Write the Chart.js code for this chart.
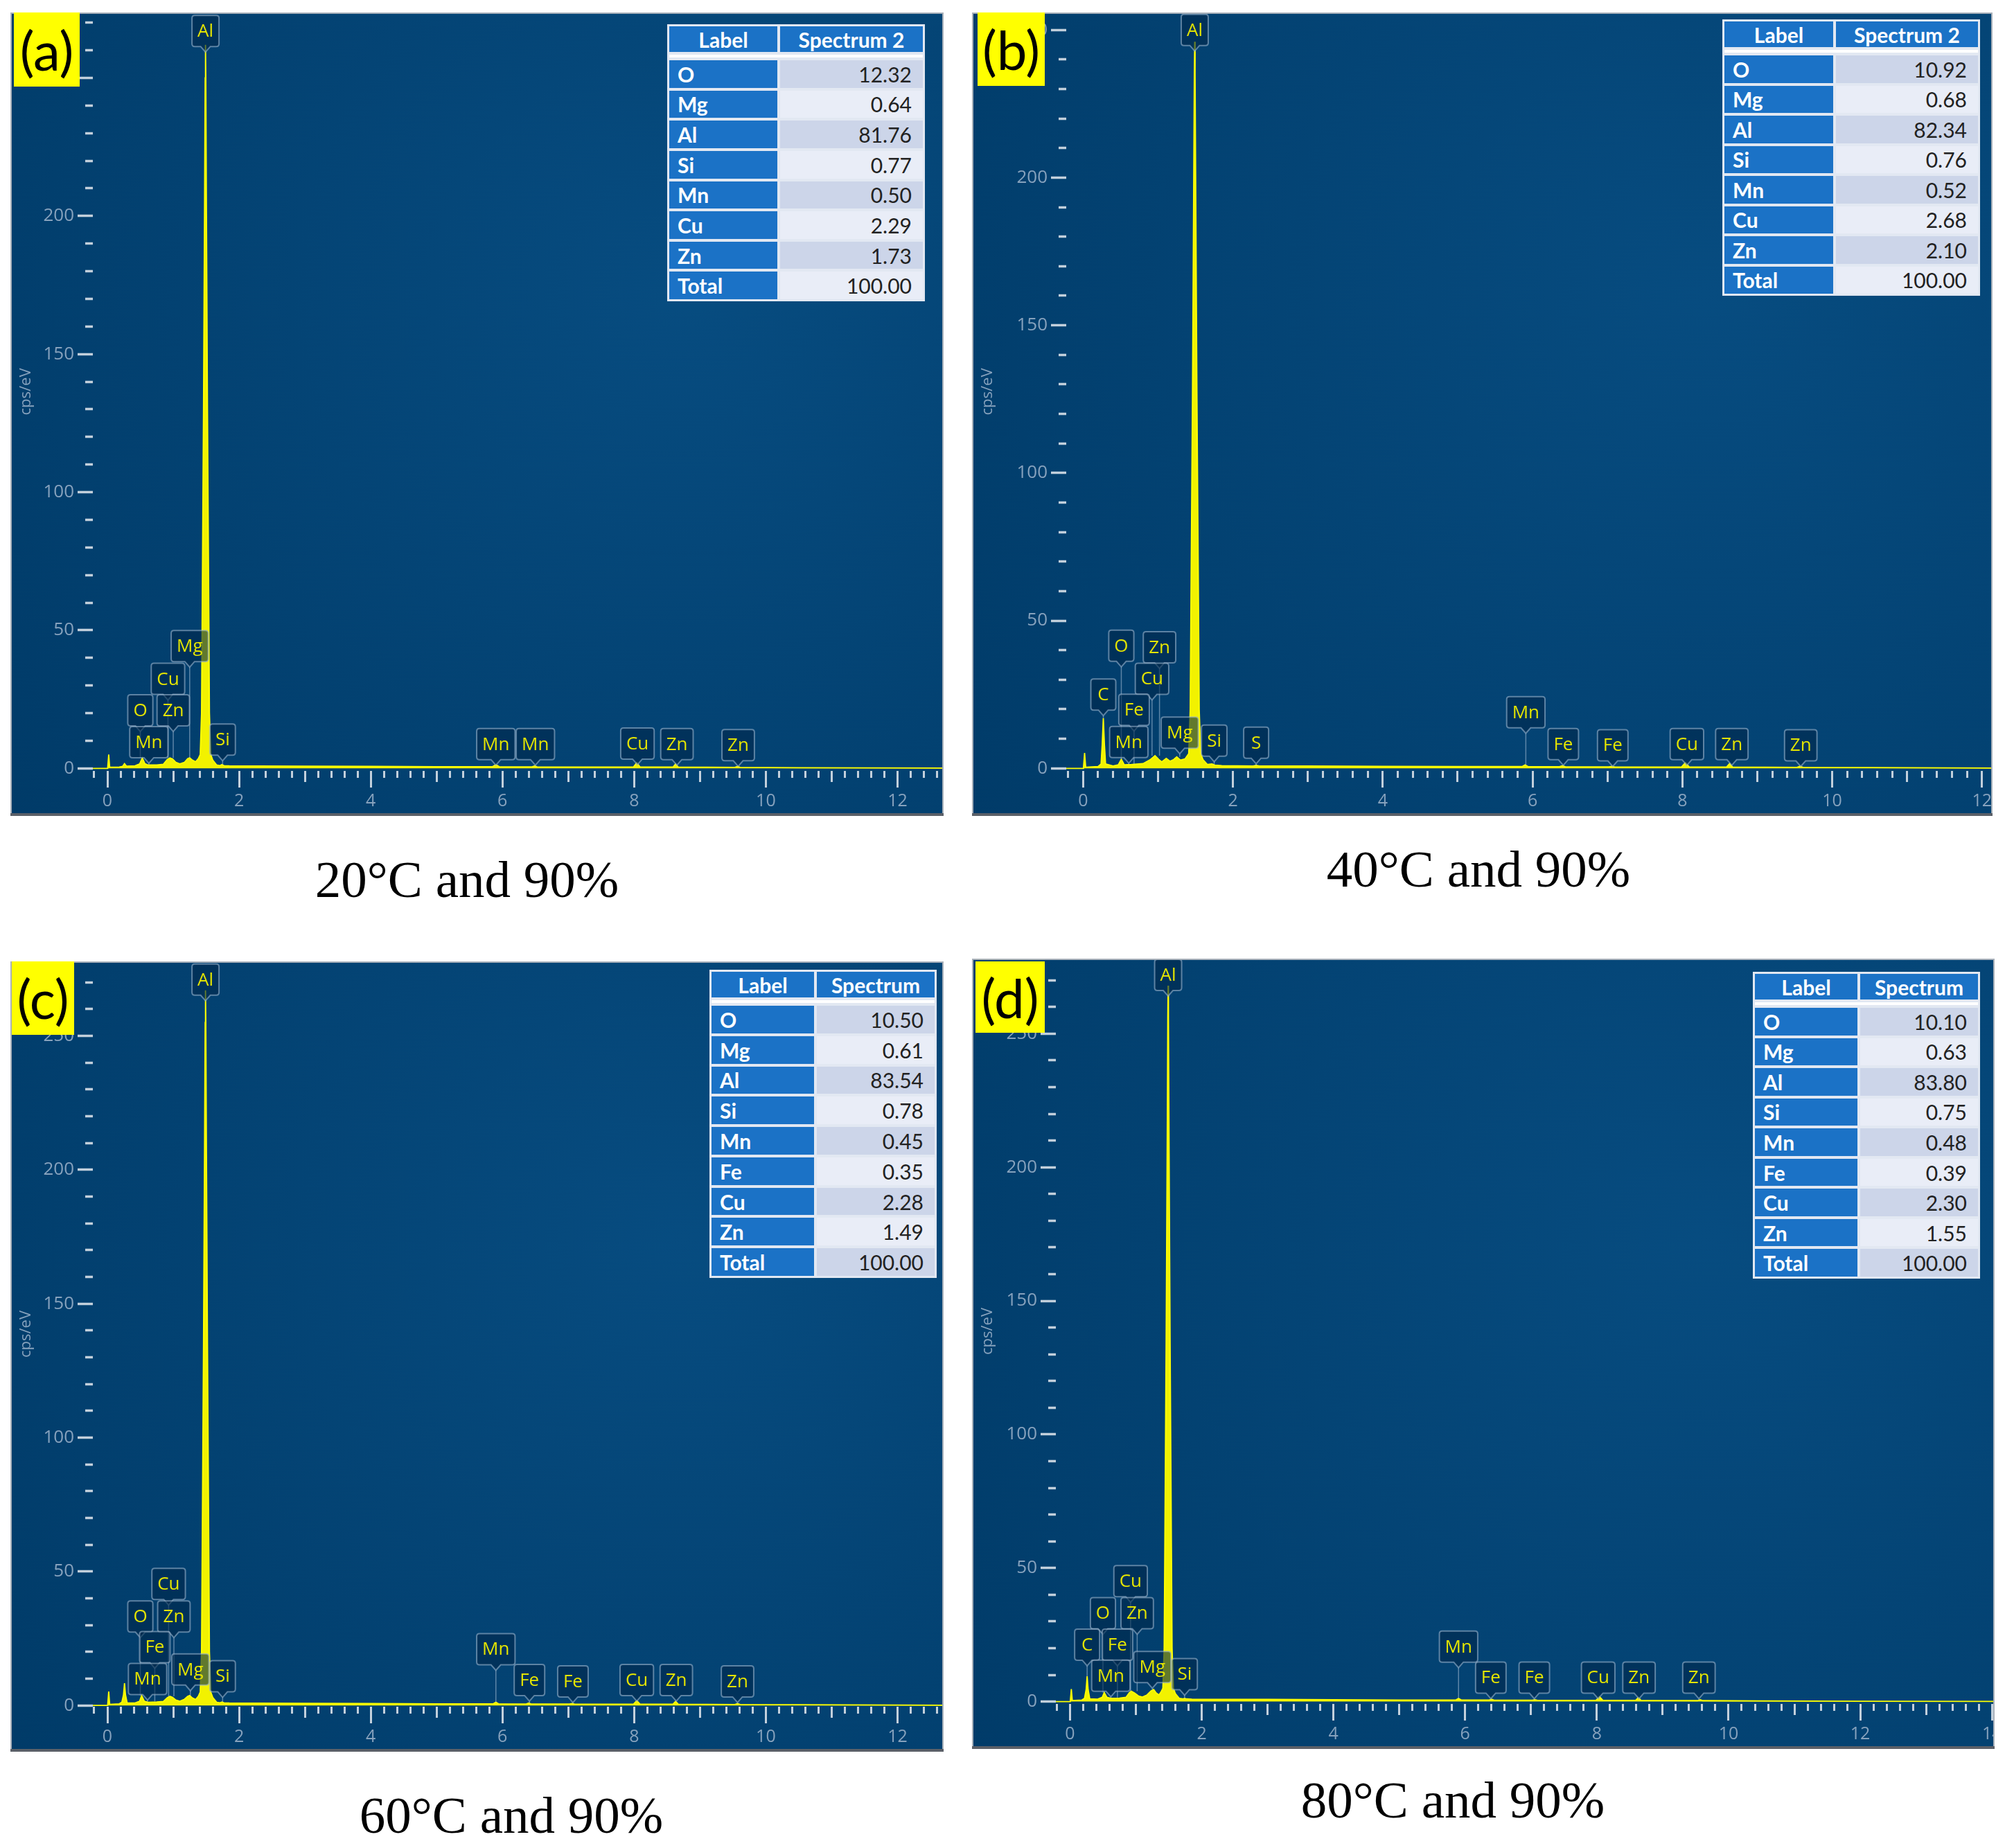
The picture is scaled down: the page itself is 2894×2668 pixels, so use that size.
<!DOCTYPE html>
<html>
<head>
<meta charset="utf-8">
<title>EDS spectra</title>
<script src="https://cdn.jsdelivr.net/npm/chart.js@4.4.1/dist/chart.umd.min.js"></script>
<style>
  body { margin: 0; background: #fff; }
  #page { position: relative; width: 2894px; height: 2668px; overflow: hidden; }
  .panel { position: absolute; }
  .panel canvas { position: absolute; left: 0; top: 0; }
  .tag { position: absolute; background: #ffff00; color: #000; font: 78px Lato, sans-serif;
         display: flex; align-items: center; justify-content: center; }
  .tbl { position: absolute; box-sizing: border-box; display: grid; padding: 3px; gap: 4px;
         background: #e2e8f2; font-family: Lato, sans-serif; }
  .tbl div { display: flex; align-items: center; }
  .tbl .h { background: #1b72c6; color: #fff; font-weight: 700; font-size: 30px; justify-content: center; }
  .tbl .sp { grid-column: span 2; background: #fff; }
  .tbl .l { background: #1b72c6; color: #fff; font-weight: 700; font-size: 30px; padding-left: 12px; }
  .tbl .v { color: #222; font-size: 30px; justify-content: flex-end; padding-right: 16px; }
  .tbl .dk { background: #ccd5e9; }
  .tbl .lt { background: #e9edf7; }
  .cap { position: absolute; font: 75px "Liberation Serif", "Times New Roman", serif; color: #000;
         white-space: nowrap; transform: translate(-50%, -50%); }
</style>
</head>
<body>
<div id="page"></div>
<script>
// spectra, [energy keV, cps/eV]
const specA = [[-0.23,0],[0,0],[0.005,0.3],[0.02,5],[0.035,0.4],[0.18,0.5],[0.23,0.7],[0.26,1.7],[0.29,0.8],[0.42,0.9],[0.49,1.6],[0.53,3.8],[0.57,1.7],[0.62,1.2],[0.75,1.2],[0.85,1.5],[0.91,3.2],[0.95,3.8],[0.99,3.4],[1.04,2.2],[1.10,1.6],[1.17,2.2],[1.22,3.5],[1.25,3.8],[1.29,3.0],[1.34,2.4],[1.38,3.5],[1.41,5],[1.43,20],[1.44,57],[1.46,130],[1.475,200],[1.485,250],[1.49,262],[1.495,250],[1.505,200],[1.52,130],[1.54,57],[1.55,20],[1.57,5],[1.60,3],[1.66,1.2],[1.71,1.0],[1.74,1.4],[1.77,1.0],[1.85,0.9],[2.3,0.85],[3.0,0.8],[4.0,0.7],[5.0,0.6],[5.85,0.6],[5.9,1.3],[5.95,0.6],[6.45,0.55],[6.49,0.9],[6.53,0.5],[7.5,0.45],[7.99,0.5],[8.04,2.0],[8.09,0.5],[8.59,0.45],[8.63,1.6],[8.67,0.45],[9.53,0.35],[9.57,0.7],[9.61,0.35],[10.5,0.25],[12.7,0.1]];
const specB = [[-0.23,0],[0,0],[0.005,0.3],[0.02,5.2],[0.035,0.4],[0.2,0.6],[0.24,1.5],[0.255,8],[0.27,17],[0.285,8],[0.30,1.5],[0.40,0.8],[0.47,1.2],[0.51,3.1],[0.55,1.2],[0.65,1.3],[0.80,1.6],[0.90,3.0],[0.96,4.3],[1.01,3.0],[1.05,2.2],[1.11,3.4],[1.16,2.4],[1.21,3.0],[1.25,3.9],[1.30,2.8],[1.36,3.2],[1.41,5],[1.43,20],[1.44,57],[1.46,125],[1.475,190],[1.485,235],[1.49,246],[1.495,235],[1.505,190],[1.52,125],[1.54,57],[1.55,20],[1.57,5],[1.60,3],[1.66,1.3],[1.72,1.5],[1.76,1.1],[1.85,0.9],[2.27,0.8],[2.31,1.0],[2.35,0.8],[3.0,0.8],[4.0,0.7],[5.0,0.6],[5.86,0.6],[5.9,1.2],[5.94,0.6],[6.36,0.55],[6.4,0.9],[6.44,0.5],[7.02,0.5],[7.06,0.7],[7.1,0.45],[7.99,0.5],[8.04,1.9],[8.09,0.5],[8.59,0.45],[8.63,1.6],[8.67,0.45],[9.53,0.35],[9.57,0.7],[9.61,0.35],[10.5,0.25],[12.15,0.1]];
const specC = [[-0.23,0],[0,0],[0.005,0.3],[0.02,5.2],[0.035,0.4],[0.18,0.6],[0.22,1.2],[0.245,4],[0.26,8.3],[0.275,4],[0.30,1.0],[0.42,0.9],[0.49,1.6],[0.52,3.7],[0.56,1.6],[0.62,1.2],[0.75,1.3],[0.85,1.5],[0.91,2.9],[0.95,3.4],[0.99,3.0],[1.04,2.0],[1.10,1.6],[1.17,2.3],[1.22,3.4],[1.25,3.7],[1.29,2.8],[1.34,2.2],[1.38,3.4],[1.41,5],[1.43,20],[1.44,58],[1.46,135],[1.475,205],[1.485,255],[1.49,267],[1.495,255],[1.505,205],[1.52,135],[1.54,58],[1.55,20],[1.57,5],[1.60,3],[1.66,1.2],[1.71,1.0],[1.74,1.3],[1.77,1.0],[1.85,0.9],[2.3,0.85],[3.0,0.8],[4.0,0.7],[5.0,0.6],[5.86,0.6],[5.9,1.2],[5.94,0.6],[6.36,0.55],[6.4,0.9],[6.44,0.5],[7.02,0.5],[7.06,0.7],[7.1,0.45],[7.99,0.5],[8.04,1.8],[8.09,0.5],[8.59,0.45],[8.63,1.5],[8.67,0.45],[9.53,0.35],[9.57,0.7],[9.61,0.35],[10.5,0.25],[12.7,0.1]];
const specD = [[-0.23,0],[0,0],[0.005,0.3],[0.02,4.7],[0.035,0.4],[0.18,0.6],[0.22,1.2],[0.245,4.5],[0.26,9.5],[0.275,4.5],[0.30,1.0],[0.42,0.9],[0.49,1.6],[0.52,3.4],[0.56,1.6],[0.62,1.2],[0.75,1.3],[0.85,1.6],[0.90,3.3],[0.93,3.9],[0.98,3.2],[1.04,2.1],[1.10,1.7],[1.17,2.5],[1.23,4.0],[1.27,4.5],[1.31,3.2],[1.35,2.5],[1.38,3.5],[1.41,5],[1.43,20],[1.44,58],[1.46,135],[1.475,205],[1.485,256],[1.49,268],[1.495,256],[1.505,205],[1.52,135],[1.54,58],[1.55,20],[1.57,5],[1.60,3],[1.66,1.2],[1.71,1.0],[1.74,1.2],[1.77,1.0],[1.85,0.9],[2.3,0.85],[3.0,0.8],[4.0,0.7],[5.0,0.6],[5.86,0.6],[5.9,1.2],[5.94,0.6],[6.36,0.55],[6.4,0.9],[6.44,0.5],[7.02,0.5],[7.06,0.7],[7.1,0.45],[7.99,0.5],[8.04,1.8],[8.09,0.5],[8.59,0.45],[8.63,1.5],[8.67,0.45],[9.53,0.35],[9.57,0.7],[9.61,0.35],[10.5,0.25],[12.0,0.12],[14.04,0.05]];

// peak labels: [element, energy keV, label height cps/eV, peak top cps/eV]
const peaksA = [['Al',1.49,267,262],['Mg',1.25,44.3,3.8],['Cu',0.92,32.4,3.8],['Zn',1.00,21,3.8],['O',0.50,21,3.8],['Mn',0.63,9.5,1.3],['Si',1.75,10.4,1.4],
  ['Mn',5.90,8.8,1.3],['Mn',6.50,8.8,0.9],['Cu',8.05,9.0,2.0],['Zn',8.65,8.8,1.6],['Zn',9.58,8.4,0.7]];
const peaksB = [['Al',1.49,250,245],['O',0.51,41.5,3.1],['Zn',1.02,41,4.3],['Cu',0.92,30.3,4.3],['C',0.27,25,17],['Fe',0.68,19.8,1.5],['Mn',0.61,8.9,1.4],['Mg',1.29,12.1,3.9],['Si',1.75,9.4,1.5],['S',2.31,8.7,1.0],
  ['Mn',5.91,19,1.2],['Fe',6.41,8.2,0.9],['Fe',7.07,7.8,0.7],['Cu',8.06,8.2,1.9],['Zn',8.66,8.2,1.6],['Zn',9.58,7.8,0.7]];
const peaksC = [['Al',1.49,271,266],['Cu',0.93,45.4,3.4],['Zn',1.01,33.2,3.4],['O',0.50,33.2,3.7],['Fe',0.72,21.8,1.5],['Mn',0.61,9.9,1.5],['Mg',1.26,13.4,3.7],['Si',1.75,10.9,1.3],
  ['Mn',5.90,21,1.2],['Fe',6.41,9.5,0.9],['Fe',7.07,9,0.7],['Cu',8.04,9.5,1.8],['Zn',8.64,9.5,1.5],['Zn',9.57,9,0.7]];
const peaksD = [['Al',1.49,272,266],['Cu',0.92,45.1,3.9],['Zn',1.02,33.1,3.9],['O',0.50,33.1,3.4],['C',0.26,21.3,9.5],['Fe',0.72,21.3,1.5],['Mn',0.62,9.7,1.5],['Mg',1.25,12.9,4.5],['Si',1.74,10.3,1.2],
  ['Mn',5.90,20.6,1.2],['Fe',6.39,9,0.9],['Fe',7.05,9,0.7],['Cu',8.02,9,1.8],['Zn',8.64,9,1.5],['Zn',9.55,9,0.7]];

// quantification tables (wt%)
const headAB = ['Label', 'Spectrum 2'];
const headCD = ['Label', 'Spectrum'];
const elemAB = ['O', 'Mg', 'Al', 'Si', 'Mn', 'Cu', 'Zn', 'Total'];
const elemCD = ['O', 'Mg', 'Al', 'Si', 'Mn', 'Fe', 'Cu', 'Zn', 'Total'];
const wtA = [12.32, 0.64, 81.76, 0.77, 0.50, 2.29, 1.73, 100.00];
const wtB = [10.92, 0.68, 82.34, 0.76, 0.52, 2.68, 2.10, 100.00];
const wtC = [10.50, 0.61, 83.54, 0.78, 0.45, 0.35, 2.28, 1.49, 100.00];
const wtD = [10.10, 0.63, 83.80, 0.75, 0.48, 0.39, 2.30, 1.55, 100.00];

const tags = ['(a)', '(b)', '(c)', '(d)'];
const captions = ['20°C and 90%', '40°C and 90%', '60°C and 90%', '80°C and 90%'];

const TICK = '#c3d0dc';
const LBL = '#87a2bd';

const panels = [
  { left: 15, top: 18, w: 1347, h: 1160, x: [-0.221, 12.70], y: [-0.93, 273.7], yw: 119, spec: specA, peaks: peaksA,
    tag: [20, 18, 95, 107], tbl: { left: 963, top: 35, w: 372, h: 400, c1: 156, head: headAB, el: elemAB, wt: wtA }, cap: [674, 1270] },
  { left: 1403, top: 18, w: 1473, h: 1160, x: [-0.225, 12.14], y: [-0.87, 255.9], yw: 136, spec: specB, peaks: peaksB,
    tag: [1411, 18, 97, 106], tbl: { left: 2486, top: 28, w: 372, h: 399, c1: 157, head: headAB, el: elemAB, wt: wtB }, cap: [2134, 1255] },
  { left: 15, top: 1388, w: 1347, h: 1141, x: [-0.221, 12.70], y: [-0.47, 277.8], yw: 119, spec: specC, peaks: peaksC,
    tag: [17, 1388, 90, 106], tbl: { left: 1024, top: 1400, w: 328, h: 445, c1: 148, head: headCD, el: elemCD, wt: wtC }, cap: [738, 2621] },
  { left: 1403, top: 1384, w: 1476, h: 1141, x: [-0.215, 14.04], y: [-0.88, 278.1], yw: 121, spec: specD, peaks: peaksD,
    tag: [1408, 1388, 100, 103], tbl: { left: 2530, top: 1403, w: 328, h: 443, c1: 148, head: headCD, el: elemCD, wt: wtD }, cap: [2097, 2599] }
];

const page = document.getElementById('page');

const bgPlugin = {
  id: 'bg',
  beforeDraw(chart) {
    const { ctx, width, height } = chart;
    const g = ctx.createRadialGradient(width * 0.72, height * 0.35, 0, width * 0.72, height * 0.35, width * 0.95);
    g.addColorStop(0, '#074c80');
    g.addColorStop(1, '#003a67');
    ctx.save();
    ctx.fillStyle = g;
    ctx.fillRect(0, 0, width, height);
    ctx.restore();
  },
  afterDraw(chart) {
    const { ctx, width, height } = chart;
    ctx.save();
    ctx.strokeStyle = '#a9b1ba';
    ctx.lineWidth = 2;
    ctx.beginPath();
    ctx.moveTo(1, height); ctx.lineTo(1, 1); ctx.lineTo(width - 1, 1); ctx.lineTo(width - 1, height);
    ctx.stroke();
    ctx.fillStyle = '#5b6068';
    ctx.fillRect(0, height - 4, width, 4);
    ctx.restore();
  }
};

function peakPlugin(items) {
  return {
    id: 'edsPeaks',
    afterDatasetsDraw(chart) {
      const { ctx } = chart;
      const xs = chart.scales.x, ys = chart.scales.y;
      ctx.save();
      ctx.font = '26px "Open Sans"';
      ctx.textAlign = 'center';
      ctx.textBaseline = 'middle';
      for (const [txt, e, c, top] of items) {
        const x = xs.getPixelForValue(e), yc = ys.getPixelForValue(c);
        const w = Math.max(36, ctx.measureText(txt).width + 16), h = 45, r = 4;
        const l = x - w / 2, t = yc - h / 2, b = yc + h / 2;
        ctx.beginPath();
        ctx.moveTo(l + r, t);
        ctx.lineTo(l + w - r, t); ctx.quadraticCurveTo(l + w, t, l + w, t + r);
        ctx.lineTo(l + w, b - r); ctx.quadraticCurveTo(l + w, b, l + w - r, b);
        ctx.lineTo(x + 7, b); ctx.lineTo(x, b + 8); ctx.lineTo(x - 7, b);
        ctx.lineTo(l + r, b); ctx.quadraticCurveTo(l, b, l, b - r);
        ctx.lineTo(l, t + r); ctx.quadraticCurveTo(l, t, l + r, t);
        ctx.closePath();
        ctx.fillStyle = 'rgba(0,40,75,0.6)';
        ctx.fill();
        ctx.strokeStyle = 'rgba(155,180,205,0.6)';
        ctx.lineWidth = 2;
        ctx.stroke();
        const ye = ys.getPixelForValue(top);
        if (ye > b + 8) {
          ctx.beginPath();
          ctx.moveTo(x, b + 8); ctx.lineTo(x, ye);
          ctx.lineWidth = 1.5;
          ctx.stroke();
        }
        ctx.fillStyle = '#e4e400';
        ctx.fillText(txt, x, yc + 1);
      }
      ctx.restore();
    }
  };
}

function round1(v) { return Math.round(v * 10) / 10; }

function makeChart(p) {
  const box = document.createElement('div');
  box.className = 'panel';
  box.style.left = p.left + 'px';
  box.style.top = p.top + 'px';
  box.style.width = p.w + 'px';
  box.style.height = p.h + 'px';
  const cv = document.createElement('canvas');
  cv.width = p.w; cv.height = p.h;
  cv.style.width = p.w + 'px'; cv.style.height = p.h + 'px';
  box.appendChild(cv);
  page.appendChild(box);

  new Chart(cv.getContext('2d'), {
    type: 'line',
    data: {
      datasets: [{
        data: p.spec.map(([x, y]) => ({ x, y })),
        borderColor: '#ffff00',
        borderWidth: 1.8,
        backgroundColor: '#f2f200',
        fill: 'origin',
        pointRadius: 0,
        tension: 0
      }]
    },
    options: {
      responsive: false,
      animation: false,
      devicePixelRatio: 1,
      events: [],
      layout: { padding: 0 },
      plugins: { legend: { display: false }, tooltip: { enabled: false } },
      scales: {
        x: {
          type: 'linear', min: p.x[0], max: p.x[1],
          afterFit: s => { s.height = 65; s.paddingLeft = 0; s.paddingRight = 0; },
          border: { display: false },
          grid: {
            drawOnChartArea: false, tickLength: 24, tickWidth: 3, tickColor: TICK,
            tickBorderDash: ctx => {
              const v = round1(ctx.tick.value);
              if (Math.abs(v - Math.round(v)) > 1e-6) return [10, 60];
              if (Math.abs(Math.round(v)) % 2 === 1) return [16, 60];
              return [];
            }
          },
          ticks: {
            stepSize: 0.2, autoSkip: false, maxRotation: 0, minRotation: 0, includeBounds: false, padding: 5,
            color: LBL, font: { family: 'Open Sans', size: 25 },
            callback: v => {
              const r = round1(v);
              return (r >= 0 && Math.abs(r - Math.round(r)) < 1e-6 && Math.round(r) % 2 === 0) ? String(Math.round(r)) : '';
            }
          }
        },
        y: {
          type: 'linear', min: p.y[0], max: p.y[1],
          afterFit: s => { s.width = p.yw; s.paddingTop = 0; s.paddingBottom = 0; },
          border: { display: false },
          grid: {
            drawOnChartArea: false, tickLength: 22, tickWidth: 3.5, tickColor: TICK,
            tickBorderDash: ctx => (Math.round(ctx.tick.value) % 50 === 0 ? [] : [0, 11, 11, 0])
          },
          ticks: {
            stepSize: 10, includeBounds: false, padding: 5, autoSkip: false,
            color: LBL, font: { family: 'Open Sans', size: 26 },
            callback: v => (Math.round(v) % 50 === 0 ? String(Math.round(v)) : '')
          },
          title: {
            display: true, text: 'cps/eV', color: LBL,
            font: { family: 'Open Sans', size: 22 }, padding: { top: 10, bottom: 0 }
          }
        }
      }
    },
    plugins: [bgPlugin, peakPlugin(p.peaks)]
  });
}

function makeTable(t) {
  const el = document.createElement('div');
  el.className = 'tbl';
  el.style.left = t.left + 'px';
  el.style.top = t.top + 'px';
  el.style.width = t.w + 'px';
  el.style.height = t.h + 'px';
  el.style.gridTemplateColumns = t.c1 + 'px 1fr';
  el.style.gridTemplateRows = '37px 4px repeat(' + t.el.length + ', 1fr)';
  let html = '<div class="h">' + t.head[0] + '</div><div class="h">' + t.head[1] + '</div><div class="sp"></div>';
  t.el.forEach((e, i) => {
    html += '<div class="l">' + e + '</div><div class="v ' + (i % 2 === 0 ? 'dk' : 'lt') + '">' + t.wt[i].toFixed(2) + '</div>';
  });
  el.innerHTML = html;
  page.appendChild(el);
}

panels.forEach((p, i) => {
  makeChart(p);
  makeTable(p.tbl);
  const tg = document.createElement('div');
  tg.className = 'tag';
  tg.style.left = p.tag[0] + 'px';
  tg.style.top = p.tag[1] + 'px';
  tg.style.width = p.tag[2] + 'px';
  tg.style.height = p.tag[3] + 'px';
  tg.textContent = tags[i];
  page.appendChild(tg);
  const cp = document.createElement('div');
  cp.className = 'cap';
  cp.style.left = p.cap[0] + 'px';
  cp.style.top = p.cap[1] + 'px';
  cp.textContent = captions[i];
  page.appendChild(cp);
});
</script>
</body>
</html>
